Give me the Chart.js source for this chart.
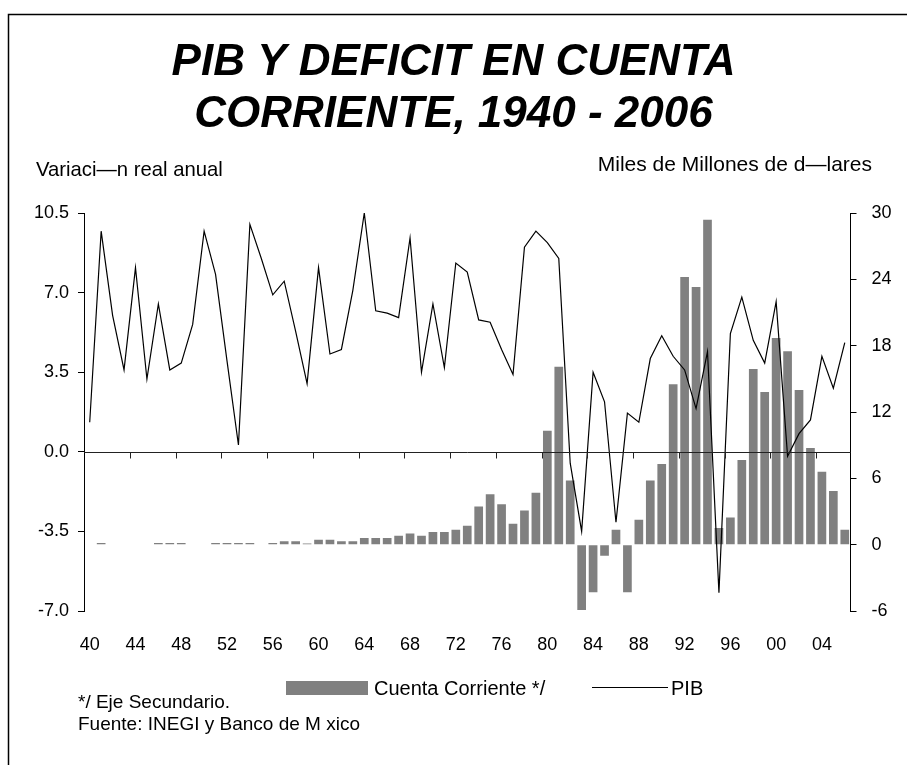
<!DOCTYPE html>
<html>
<head>
<meta charset="utf-8">
<script src="https://cdn.jsdelivr.net/npm/chart.js@4.4.1/dist/chart.umd.min.js"></script>
<style>
  html, body { margin: 0; padding: 0; background: #fff; overflow: hidden; }
</style>
</head>
<body>
<canvas id="chart" width="907" height="765"></canvas>
<script>
const years = [
  1940, 1941, 1942, 1943, 1944, 1945, 1946, 1947, 1948, 1949,
  1950, 1951, 1952, 1953, 1954, 1955, 1956, 1957, 1958, 1959,
  1960, 1961, 1962, 1963, 1964, 1965, 1966, 1967, 1968, 1969,
  1970, 1971, 1972, 1973, 1974, 1975, 1976, 1977, 1978, 1979,
  1980, 1981, 1982, 1983, 1984, 1985, 1986, 1987, 1988, 1989,
  1990, 1991, 1992, 1993, 1994, 1995, 1996, 1997, 1998, 1999,
  2000, 2001, 2002, 2003, 2004, 2005, 2006
];

// PIB, variacion real anual (eje izquierdo)
const pib = [
  1.3, 9.7, 6.0, 3.6, 8.1, 3.2, 6.5, 3.6, 3.9, 5.6,
  9.7, 7.8, 4.0, 0.3, 10.0, 8.5, 6.9, 7.5, 5.3, 3.0,
  8.1, 4.3, 4.5, 7.1, 10.5, 6.2, 6.1, 5.9, 9.4, 3.5,
  6.5, 3.7, 8.3, 7.9, 5.8, 5.7, 4.5, 3.4, 9.0, 9.7,
  9.2, 8.5, -0.5, -3.5, 3.5, 2.2, -3.1, 1.7, 1.3, 4.1,
  5.1, 4.2, 3.6, 1.9, 4.4, -6.2, 5.2, 6.8, 4.9, 3.9,
  6.6, -0.2, 0.8, 1.4, 4.2, 2.8, 4.8
];

// deficit en cuenta corriente, miles de millones de dolares (eje secundario)
const cuenta = [
  0, 0.15, 0, 0, 0, 0, 0.15, 0.15, 0.15, 0,
  0, 0.15, 0.15, 0.15, 0.15, 0, 0.15, 0.3, 0.3, 0.1,
  0.45, 0.45, 0.3, 0.3, 0.6, 0.6, 0.6, 0.8, 1.0, 0.8,
  1.15, 1.15, 1.35, 1.7, 3.45, 4.55, 3.65, 1.9, 3.1, 4.7,
  10.3, 16.1, 5.8, -5.9, -4.3, -1.0, 1.35, -4.3, 2.25, 5.8,
  7.3, 14.5, 24.2, 23.3, 29.4, 1.5, 2.45, 7.65, 15.9, 13.8,
  18.7, 17.5, 14.0, 8.75, 6.6, 4.85, 1.35
];

const titleLines = ['PIB Y DEFICIT EN CUENTA', 'CORRIENTE, 1940 - 2006'];
const leftTitle = 'Variaci\u2014n real anual';
const rightTitle = 'Miles de Millones de d\u2014lares';
const notes = ['*/ Eje Secundario.', 'Fuente: INEGI y Banco de M xico'];

const FONT = "'Liberation Sans', Arial, sans-serif";
Chart.defaults.font.family = FONT;
Chart.defaults.color = '#000';

const decor = {
  id: 'decor',
  beforeDraw(chart) {
    const ctx = chart.ctx;
    ctx.save();
    ctx.fillStyle = '#fff';
    ctx.fillRect(0, 0, chart.width, chart.height);
    ctx.strokeStyle = '#000';
    ctx.lineWidth = 1.5;
    ctx.beginPath();
    ctx.moveTo(8.5, chart.height);
    ctx.lineTo(8.5, 14.5);
    ctx.lineTo(chart.width, 14.5);
    ctx.stroke();
    ctx.restore();
  },
  afterDatasetsDraw(chart) {
    const ctx = chart.ctx;
    const area = chart.chartArea;
    const x = chart.scales.x;
    const y0 = Math.round(chart.scales.y.getPixelForValue(0)) + 0.5;
    const half = (x.getPixelForValue(1) - x.getPixelForValue(0)) / 2;
    ctx.save();
    ctx.strokeStyle = '#222';
    ctx.lineWidth = 1;
    ctx.beginPath();
    ctx.moveTo(area.left, y0);
    ctx.lineTo(area.right, y0);
    years.forEach((yr, i) => {
      if (i > 0 && yr % 4 === 0) {
        const px = Math.round(x.getPixelForValue(i) - half) + 0.5;
        ctx.moveTo(px, y0);
        ctx.lineTo(px, y0 + 6);
      }
    });
    ctx.stroke();
    ctx.restore();
  },
  afterDraw(chart) {
    const ctx = chart.ctx;
    const [bars, line] = chart.data.datasets;
    ctx.save();
    ctx.fillStyle = '#000';
    ctx.textBaseline = 'alphabetic';
    ctx.textAlign = 'left';
    ctx.font = '20.3px ' + FONT;
    ctx.fillText(leftTitle, 36, 176);
    ctx.textAlign = 'right';
    ctx.font = '21px ' + FONT;
    ctx.fillText(rightTitle, 872, 171);

    // legend
    ctx.font = '20px ' + FONT;
    ctx.textAlign = 'left';
    ctx.fillStyle = bars.backgroundColor;
    ctx.fillRect(286, 681, 82, 14);
    ctx.fillStyle = '#000';
    ctx.fillText(bars.label, 374, 695);
    ctx.strokeStyle = line.borderColor;
    ctx.lineWidth = 1;
    ctx.beginPath();
    ctx.moveTo(592, 687.5);
    ctx.lineTo(668, 687.5);
    ctx.stroke();
    ctx.fillText(line.label, 671, 695);

    // notes
    ctx.font = '19px ' + FONT;
    ctx.fillText(notes[0], 78, 708);
    ctx.fillText(notes[1], 78, 730);
    ctx.restore();
  }
};

new Chart(document.getElementById('chart'), {
  data: {
    labels: years,
    datasets: [
      {
        type: 'bar',
        label: 'Cuenta Corriente */',
        data: cuenta,
        yAxisID: 'y1',
        backgroundColor: '#808080',
        borderWidth: 0,
        barPercentage: 0.76,
        categoryPercentage: 1,
        order: 2
      },
      {
        type: 'line',
        label: 'PIB',
        data: pib,
        yAxisID: 'y',
        borderColor: '#000',
        borderWidth: 1.2,
        pointRadius: 0,
        tension: 0,
        fill: false,
        order: 1
      }
    ]
  },
  options: {
    responsive: false,
    animation: false,
    layout: { padding: { left: 0, right: 0, top: 0, bottom: 114 } },
    plugins: {
      legend: { display: false },
      tooltip: { enabled: false },
      title: {
        display: true,
        text: titleLines,
        color: '#000',
        font: { family: FONT, size: 44, weight: 'bold', style: 'italic', lineHeight: '52px' },
        padding: { top: 36.5, bottom: 72.5 }
      }
    },
    scales: {
      x: {
        grid: { display: false },
        border: { display: false },
        ticks: {
          autoSkip: false,
          maxRotation: 0,
          padding: 15,
          font: { size: 18 },
          callback: (v, i) => (years[i] % 4 === 0 ? String(years[i]).slice(2) : '')
        },
        afterFit: s => { s.height = 40; }
      },
      y: {
        position: 'left',
        min: -7,
        max: 10.5,
        ticks: { stepSize: 3.5, padding: 9, font: { size: 18 }, callback: v => v.toFixed(1) },
        grid: { drawOnChartArea: false, tickColor: '#000', tickLength: 6 },
        border: { color: '#000' },
        afterFit: s => { s.width = 84; }
      },
      y1: {
        position: 'right',
        min: -6,
        max: 30,
        ticks: { stepSize: 6, padding: 15, font: { size: 18 } },
        grid: { drawOnChartArea: false, tickColor: '#000', tickLength: 6 },
        border: { color: '#000' },
        afterFit: s => { s.width = 56.5; }
      }
    }
  },
  plugins: [decor]
});
</script>
</body>
</html>
